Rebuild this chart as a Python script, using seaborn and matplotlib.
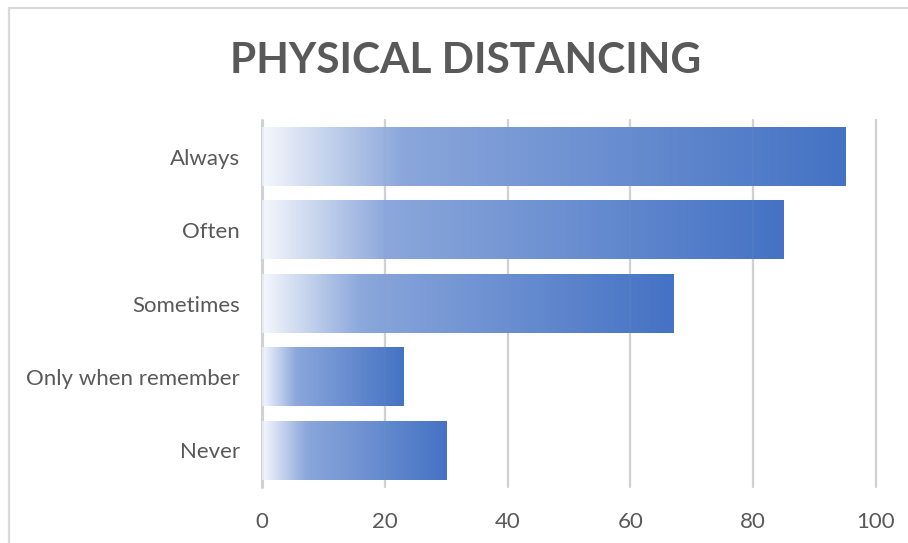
import numpy as np
import pandas as pd
import matplotlib
matplotlib.use("Agg")
import matplotlib.pyplot as plt
from matplotlib.colors import LinearSegmentedColormap
from matplotlib.lines import Line2D
import seaborn as sns

# Survey responses
categories = ["Always", "Often", "Sometimes", "Only when remember", "Never"]
values = [95, 85, 67, 23, 30]
x_ticks = [0, 20, 40, 60, 80, 100]
title = "PHYSICAL DISTANCING"

df = pd.DataFrame({"category": categories, "value": values})

sns.set_theme(style="white")
plt.rcParams["font.family"] = ["Lato", "DejaVu Sans"]

W, H = 908, 543
fig = plt.figure(figsize=(W / 100, H / 100), dpi=100)
ax = fig.add_axes([262 / W, 1 - 487 / H, (876 - 262) / W, (487 - 120) / H])

sns.barplot(data=df, y="category", x="value", orient="h", ax=ax,
            width=0.8, color="#4472c4", order=categories)

# Horizontal gradient fill: pale at the base, deepening blue at the tip
grad = LinearSegmentedColormap.from_list(
    "bar_grad", [(0.0, "#f5f7fc"), (0.24, "#8ba7db"), (1.0, "#4472c4")])
ramp = np.linspace(0, 1, 512).reshape(1, -1)
for patch in ax.patches:
    x0, y0 = patch.get_x(), patch.get_y()
    w, h = patch.get_width(), patch.get_height()
    patch.set_facecolor("none")
    patch.set_edgecolor("none")
    ax.imshow(ramp, cmap=grad, aspect="auto", interpolation="bilinear",
              extent=[x0, x0 + w, y0 + h, y0], zorder=2)

ax.set_xlim(0, 100)
ax.set_ylim(len(categories) - 0.5, -0.5)
ax.set_xticks(x_ticks)
ax.set_xticklabels([str(t) for t in x_ticks])

# Vertical gridlines (behind bars, with a faint trace over them)
for t in x_ticks:
    lw = 2.2 if t == 0 else 1.6
    ax.axvline(t, color="#d9d9d9", lw=lw, zorder=1, clip_on=False)
    ax.axvline(t, color="#8899bb", lw=lw, alpha=0.12, zorder=3, clip_on=False)

for s in ax.spines.values():
    s.set_visible(False)
ax.set_xlabel("")
ax.set_ylabel("")
ax.tick_params(axis="both", length=0, labelsize=16, colors="#595959")
ax.tick_params(axis="y", pad=16)
ax.tick_params(axis="x", pad=18)

fig.text(466 / W, 1 - 73 / H, title, ha="center", va="baseline",
         fontsize=30.5, fontweight="bold", color="#595959")

# Chart-area border
fig.add_artist(Line2D([8.5 / W, 8.5 / W], [-0.05, 1 - 7.5 / H],
                      transform=fig.transFigure, color="#d9d9d9", lw=1.6))
fig.add_artist(Line2D([8.5 / W, 1.05], [1 - 7.5 / H, 1 - 7.5 / H],
                      transform=fig.transFigure, color="#d9d9d9", lw=1.6))

fig.savefig("out.png", dpi=100)
